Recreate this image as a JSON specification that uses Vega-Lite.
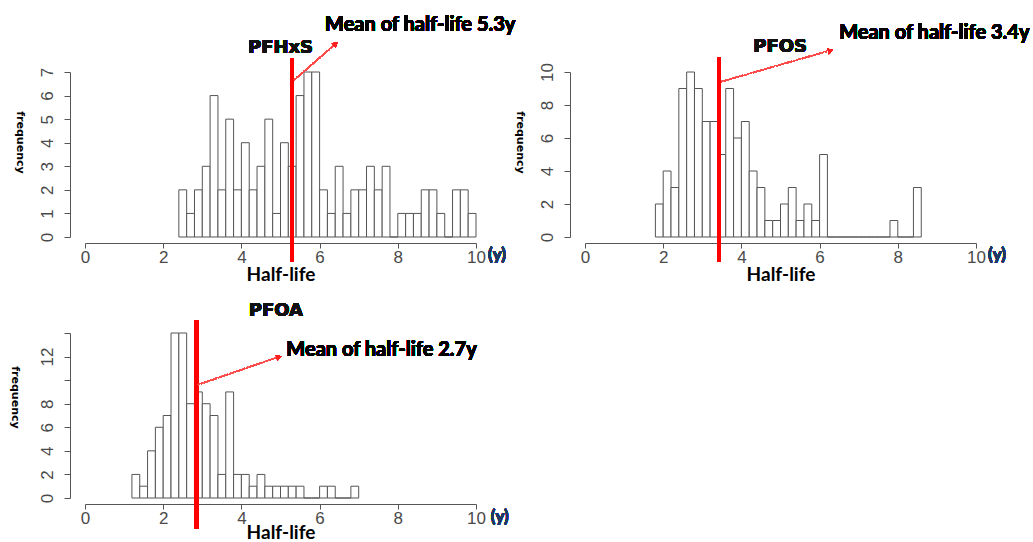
{
  "$schema": "https://vega.github.io/schema/vega-lite/v6.json",
  "background": "white",
  "padding": {"left": 9, "top": 14, "right": 0, "bottom": 0},
  "autosize": {"type": "pad"},
  "bounds": "flush",
  "spacing": {"row": 96, "column": 109},
  "columns": 2,
  "config": {
    "view": {"stroke": null},
    "axis": {"grid": false, "domainColor": "#555", "tickColor": "#555", "labelColor": "#4a4a4a", "labelFont": "Liberation Sans", "labelFontSize": 17, "domainWidth": 1, "tickWidth": 1, "labelOverlap": false},
    "axisX": {"offset": 6, "tickSize": 5, "labelPadding": 1, "labelFlush": false, "titleFont": "Lato", "titleFontSize": 19, "titleFontWeight": "bold", "titleColor": "#000", "titlePadding": 0},
    "axisY": {"offset": 15, "tickSize": 6, "labelAngle": 270, "labelAlign": "center", "labelBaseline": "bottom", "labelPadding": 8, "titleAngle": 90, "titleFont": "DejaVu Sans", "titleFontSize": 11, "titleFontWeight": "bold", "titleColor": "#000", "titleX": -51, "titleY": 70, "titleAlign": "center", "titleBaseline": "middle"}
  },
  "datasets": {
    "pfhxs": [
      {"start": 2.4, "end": 2.6, "count": 2}, {"start": 2.6, "end": 2.8, "count": 1}, {"start": 2.8, "end": 3.0, "count": 2},
      {"start": 3.0, "end": 3.2, "count": 3}, {"start": 3.2, "end": 3.4, "count": 6}, {"start": 3.4, "end": 3.6, "count": 2},
      {"start": 3.6, "end": 3.8, "count": 5}, {"start": 3.8, "end": 4.0, "count": 2}, {"start": 4.0, "end": 4.2, "count": 4},
      {"start": 4.2, "end": 4.4, "count": 2}, {"start": 4.4, "end": 4.6, "count": 3}, {"start": 4.6, "end": 4.8, "count": 5},
      {"start": 4.8, "end": 5.0, "count": 1}, {"start": 5.0, "end": 5.2, "count": 4}, {"start": 5.2, "end": 5.4, "count": 3},
      {"start": 5.4, "end": 5.6, "count": 6}, {"start": 5.6, "end": 5.8, "count": 7}, {"start": 5.8, "end": 6.0, "count": 7},
      {"start": 6.0, "end": 6.2, "count": 2}, {"start": 6.2, "end": 6.4, "count": 1}, {"start": 6.4, "end": 6.6, "count": 3},
      {"start": 6.6, "end": 6.8, "count": 1}, {"start": 6.8, "end": 7.0, "count": 2}, {"start": 7.0, "end": 7.2, "count": 2},
      {"start": 7.2, "end": 7.4, "count": 3}, {"start": 7.4, "end": 7.6, "count": 2}, {"start": 7.6, "end": 7.8, "count": 3},
      {"start": 7.8, "end": 8.0, "count": 0}, {"start": 8.0, "end": 8.2, "count": 1}, {"start": 8.2, "end": 8.4, "count": 1},
      {"start": 8.4, "end": 8.6, "count": 1}, {"start": 8.6, "end": 8.8, "count": 2}, {"start": 8.8, "end": 9.0, "count": 2},
      {"start": 9.0, "end": 9.2, "count": 1}, {"start": 9.2, "end": 9.4, "count": 0}, {"start": 9.4, "end": 9.6, "count": 2},
      {"start": 9.6, "end": 9.8, "count": 2}, {"start": 9.8, "end": 10.0, "count": 1}
    ],
    "pfos": [
      {"start": 1.8, "end": 2.0, "count": 2}, {"start": 2.0, "end": 2.2, "count": 4}, {"start": 2.2, "end": 2.4, "count": 3},
      {"start": 2.4, "end": 2.6, "count": 9}, {"start": 2.6, "end": 2.8, "count": 10}, {"start": 2.8, "end": 3.0, "count": 9},
      {"start": 3.0, "end": 3.2, "count": 7}, {"start": 3.2, "end": 3.4, "count": 7}, {"start": 3.4, "end": 3.6, "count": 5},
      {"start": 3.6, "end": 3.8, "count": 9}, {"start": 3.8, "end": 4.0, "count": 6}, {"start": 4.0, "end": 4.2, "count": 7},
      {"start": 4.2, "end": 4.4, "count": 4}, {"start": 4.4, "end": 4.6, "count": 3}, {"start": 4.6, "end": 4.8, "count": 1},
      {"start": 4.8, "end": 5.0, "count": 1}, {"start": 5.0, "end": 5.2, "count": 2}, {"start": 5.2, "end": 5.4, "count": 3},
      {"start": 5.4, "end": 5.6, "count": 1}, {"start": 5.6, "end": 5.8, "count": 2}, {"start": 5.8, "end": 6.0, "count": 1},
      {"start": 6.0, "end": 6.2, "count": 5}, {"start": 6.2, "end": 6.4, "count": 0}, {"start": 6.4, "end": 6.6, "count": 0},
      {"start": 6.6, "end": 6.8, "count": 0}, {"start": 6.8, "end": 7.0, "count": 0}, {"start": 7.0, "end": 7.2, "count": 0},
      {"start": 7.2, "end": 7.4, "count": 0}, {"start": 7.4, "end": 7.6, "count": 0}, {"start": 7.6, "end": 7.8, "count": 0},
      {"start": 7.8, "end": 8.0, "count": 1}, {"start": 8.0, "end": 8.2, "count": 0}, {"start": 8.2, "end": 8.4, "count": 0},
      {"start": 8.4, "end": 8.6, "count": 3}
    ],
    "pfoa": [
      {"start": 1.2, "end": 1.4, "count": 2}, {"start": 1.4, "end": 1.6, "count": 1}, {"start": 1.6, "end": 1.8, "count": 4},
      {"start": 1.8, "end": 2.0, "count": 6}, {"start": 2.0, "end": 2.2, "count": 7}, {"start": 2.2, "end": 2.4, "count": 14},
      {"start": 2.4, "end": 2.6, "count": 14}, {"start": 2.6, "end": 2.8, "count": 8}, {"start": 2.8, "end": 3.0, "count": 9},
      {"start": 3.0, "end": 3.2, "count": 8}, {"start": 3.2, "end": 3.4, "count": 7}, {"start": 3.4, "end": 3.6, "count": 2},
      {"start": 3.6, "end": 3.8, "count": 9}, {"start": 3.8, "end": 4.0, "count": 2}, {"start": 4.0, "end": 4.2, "count": 2},
      {"start": 4.2, "end": 4.4, "count": 1}, {"start": 4.4, "end": 4.6, "count": 2}, {"start": 4.6, "end": 4.8, "count": 1},
      {"start": 4.8, "end": 5.0, "count": 1}, {"start": 5.0, "end": 5.2, "count": 1}, {"start": 5.2, "end": 5.4, "count": 1},
      {"start": 5.4, "end": 5.6, "count": 1}, {"start": 5.6, "end": 5.8, "count": 0}, {"start": 5.8, "end": 6.0, "count": 0},
      {"start": 6.0, "end": 6.2, "count": 1}, {"start": 6.2, "end": 6.4, "count": 1}, {"start": 6.4, "end": 6.6, "count": 0},
      {"start": 6.6, "end": 6.8, "count": 0}, {"start": 6.8, "end": 7.0, "count": 1}
    ]
  },
  "concat": [
    {
      "width": 391, "height": 165,
      "data": {"name": "pfhxs"},
      "layer": [
        {
          "mark": {"type": "rect", "fill": "white", "stroke": "#555", "strokeWidth": 1},
          "encoding": {
            "x": {"field": "start", "type": "quantitative", "scale": {"domain": [0, 10], "nice": false}, "axis": {"values": [0, 2, 4, 6, 8, 10], "title": "Half-life"}},
            "x2": {"field": "end"},
            "y": {"field": "count", "type": "quantitative", "scale": {"domain": [0, 7], "nice": false}, "axis": {"values": [0, 1, 2, 3, 4, 5, 6, 7], "labelOverlap": false, "tickCount": 8, "title": "frequency"}},
            "y2": {"datum": 0}
          }
        },
        {
          "mark": {"type": "rule", "color": "#ff0000", "strokeWidth": 3.5},
          "encoding": {"x": {"datum": 5.29}, "y": {"datum": -1.04}, "y2": {"datum": 7.58}}
        },
        {
          "mark": {"type": "rule", "color": "#ff4a4a", "strokeWidth": 1.2, "strokeDash": [2, 1]},
          "encoding": {"x": {"datum": 5.35}, "y": {"datum": 6.67}, "x2": {"datum": 6.36}, "y2": {"datum": 8.12}}
        },
        {
          "mark": {"type": "point", "shape": "triangle-up", "filled": true, "color": "#ff2020", "opacity": 1, "size": 35, "angle": 50},
          "encoding": {"x": {"datum": 6.41}, "y": {"datum": 8.19}}
        },
        {
          "mark": {"type": "text", "text": "Mean of half-life 5.3y", "align": "left", "baseline": "middle", "font": "Lato", "fontSize": 20, "fontWeight": "bold", "color": "#000"},
          "encoding": {"x": {"datum": 6.14}, "y": {"datum": 9.0}}
        },
        {
          "mark": {"type": "text", "text": "PFHxS", "align": "center", "baseline": "middle", "font": "DejaVu Sans", "fontSize": 18, "fontWeight": "bold", "color": "#111"},
          "encoding": {"x": {"datum": 5.0}, "y": {"datum": 8.03}}
        },
        {
          "mark": {"type": "text", "text": "(y)", "align": "left", "baseline": "middle", "font": "Lato", "fontSize": 17, "fontWeight": "bold", "color": "#1F3864"},
          "encoding": {"x": {"datum": 10.31}, "y": {"datum": -0.75}}
        }
      ]
    },
    {
      "width": 391, "height": 165,
      "data": {"name": "pfos"},
      "layer": [
        {
          "mark": {"type": "rect", "fill": "white", "stroke": "#555", "strokeWidth": 1},
          "encoding": {
            "x": {"field": "start", "type": "quantitative", "scale": {"domain": [0, 10], "nice": false}, "axis": {"values": [0, 2, 4, 6, 8, 10], "title": "Half-life"}},
            "x2": {"field": "end"},
            "y": {"field": "count", "type": "quantitative", "scale": {"domain": [0, 10], "nice": false}, "axis": {"values": [0, 2, 4, 6, 8, 10], "labelOverlap": false, "tickCount": 6, "title": "frequency"}},
            "y2": {"datum": 0}
          }
        },
        {
          "mark": {"type": "rule", "color": "#ff0000", "strokeWidth": 3.5},
          "encoding": {"x": {"datum": 3.43}, "y": {"datum": -1.49}, "y2": {"datum": 10.89}}
        },
        {
          "mark": {"type": "rule", "color": "#ff4a4a", "strokeWidth": 1.2, "strokeDash": [2, 1]},
          "encoding": {"x": {"datum": 3.48}, "y": {"datum": 9.41}, "x2": {"datum": 6.2}, "y2": {"datum": 11.26}}
        },
        {
          "mark": {"type": "point", "shape": "triangle-up", "filled": true, "color": "#ff2020", "opacity": 1, "size": 35, "angle": 74},
          "encoding": {"x": {"datum": 6.28}, "y": {"datum": 11.29}}
        },
        {
          "mark": {"type": "text", "text": "Mean of half-life 3.4y", "align": "left", "baseline": "middle", "font": "Lato", "fontSize": 20, "fontWeight": "bold", "color": "#000"},
          "encoding": {"x": {"datum": 6.5}, "y": {"datum": 12.38}}
        },
        {
          "mark": {"type": "text", "text": "PFOS", "align": "center", "baseline": "middle", "font": "DejaVu Sans", "fontSize": 18, "fontWeight": "bold", "color": "#111"},
          "encoding": {"x": {"datum": 4.99}, "y": {"datum": 11.53}}
        },
        {
          "mark": {"type": "text", "text": "(y)", "align": "left", "baseline": "middle", "font": "Lato", "fontSize": 17, "fontWeight": "bold", "color": "#1F3864"},
          "encoding": {"x": {"datum": 10.31}, "y": {"datum": -1.07}}
        }
      ]
    },
    {
      "width": 391, "height": 165,
      "data": {"name": "pfoa"},
      "layer": [
        {
          "mark": {"type": "rect", "fill": "white", "stroke": "#555", "strokeWidth": 1},
          "encoding": {
            "x": {"field": "start", "type": "quantitative", "scale": {"domain": [0, 10], "nice": false}, "axis": {"values": [0, 2, 4, 6, 8, 10], "title": "Half-life", "titlePadding": -3}},
            "x2": {"field": "end"},
            "y": {"field": "count", "type": "quantitative", "scale": {"domain": [0, 14], "nice": false}, "axis": {"values": [0, 2, 4, 6, 8, 10, 12, 14], "labelOverlap": false, "tickCount": 8, "labelExpr": "datum.value == 10 || datum.value == 14 ? '' : datum.label", "title": "frequency", "titleY": 64, "titleX": -56}},
            "y2": {"datum": 0}
          }
        },
        {
          "mark": {"type": "rule", "color": "#ff0000", "strokeWidth": 3.5},
          "encoding": {"x": {"datum": 2.85}, "y": {"datum": -2.6}, "y2": {"datum": 15.09}}
        },
        {
          "mark": {"type": "rule", "color": "#ff4a4a", "strokeWidth": 1.2, "strokeDash": [2, 1]},
          "encoding": {"x": {"datum": 2.89}, "y": {"datum": 9.61}, "x2": {"datum": 4.88}, "y2": {"datum": 11.9}}
        },
        {
          "mark": {"type": "point", "shape": "triangle-up", "filled": true, "color": "#ff2020", "opacity": 1, "size": 35, "angle": 71},
          "encoding": {"x": {"datum": 4.96}, "y": {"datum": 11.96}}
        },
        {
          "mark": {"type": "text", "text": "Mean of half-life 2.7y", "align": "left", "baseline": "middle", "font": "Lato", "fontSize": 20, "fontWeight": "bold", "color": "#000"},
          "encoding": {"x": {"datum": 5.15}, "y": {"datum": 12.52}}
        },
        {
          "mark": {"type": "text", "text": "PFOA", "align": "center", "baseline": "middle", "font": "DejaVu Sans", "fontSize": 18, "fontWeight": "bold", "color": "#111"},
          "encoding": {"x": {"datum": 4.88}, "y": {"datum": 15.89}}
        },
        {
          "mark": {"type": "text", "text": "(y)", "align": "left", "baseline": "middle", "font": "Lato", "fontSize": 17, "fontWeight": "bold", "color": "#1F3864"},
          "encoding": {"x": {"datum": 10.38}, "y": {"datum": -1.59}}
        }
      ]
    }
  ]
}
